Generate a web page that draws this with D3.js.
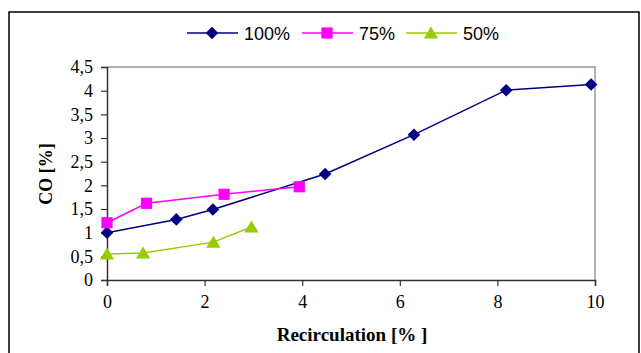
<!DOCTYPE html>
<html><head><meta charset="utf-8">
<script src="https://cdn.jsdelivr.net/npm/d3@7"></script>
<style>body{margin:0;background:#fff}svg{display:block}
.serif{font-family:"Liberation Serif","Times New Roman",serif}
.sans{font-family:"Liberation Sans",Arial,sans-serif}
</style>
</head><body>
<svg id="c" width="641" height="353"></svg>
<script>
const seriesNames = ["100%", "75%", "50%"];
const x100 = [0, 1.42, 2.17, 4.47, 6.29, 8.18, 9.92];
const y100 = [1.0, 1.28, 1.49, 2.24, 3.07, 4.01, 4.13];
const x75 = [0, 0.81, 2.4, 3.94];
const y75 = [1.21, 1.62, 1.81, 1.97];
const x50 = [0, 0.74, 2.18, 2.96];
const y50 = [0.55, 0.57, 0.8, 1.12];
const xTicks = [0, 2, 4, 6, 8, 10];
const yTicks = [0, 0.5, 1, 1.5, 2, 2.5, 3, 3.5, 4, 4.5];
const xTitle = "Recirculation [% ]";
const yTitle = "CO [%]";

const colors = ["#000080", "#FF00FF", "#99CC00"];

// marker path generators (size in px)
const diamond = s => `M0,${-s}L${s},0L0,${s}L${-s},0Z`;
const square = s => `M${-s},${-s}H${s}V${s}H${-s}Z`;
const triangle = s => `M0,${-s}L${s * 1.1},${s * 0.85}H${-s * 1.1}Z`;
const markers = [() => diamond(6.3), () => square(5.6), () => triangle(6.5)];

const svg = d3.select("#c");
const L = 107, R = 595, T = 67, B = 280;
const x = d3.scaleLinear().domain([0, 10]).range([L, R]);
const y = d3.scaleLinear().domain([0, 4.5]).range([B, T]);

// outer frame
svg.append("rect").attr("x", 9).attr("y", 12).attr("width", 630).attr("height", 360)
  .attr("fill", "none").attr("stroke", "#000").attr("stroke-width", 1.5);

// plot frame top/right
svg.append("path").attr("d", `M${L},${T}H${R}V${B}`).attr("fill", "none")
  .attr("stroke", "#999").attr("stroke-width", 1.5);

const fmt = d => String(d).replace(".", ",");
const xAxis = svg.append("g").attr("transform", `translate(0,${B})`)
  .call(d3.axisBottom(x).tickValues(xTicks).tickFormat(fmt).tickSize(6).tickPadding(9));
const yAxis = svg.append("g").attr("transform", `translate(${L},0)`)
  .call(d3.axisLeft(y).tickValues(yTicks).tickFormat(fmt).tickSize(6).tickPadding(8));
[xAxis, yAxis].forEach(a => {
  a.attr("font-family", null).attr("font-size", null);
  a.selectAll("path").attr("stroke", "#333").attr("stroke-width", 1.5);
  a.selectAll("line").attr("stroke", "#333").attr("stroke-width", 1.2);
  a.selectAll("text").attr("class", "serif").style("font-size", "18px").attr("fill", "#000");
});

svg.append("text").attr("x", 352).attr("y", 341).attr("text-anchor", "middle")
  .attr("class", "serif").style("font-weight", "bold")
  .style("font-size", "19px").text(xTitle);
svg.append("text").attr("transform", "translate(52,174) rotate(-90)").attr("text-anchor", "middle")
  .attr("class", "serif").style("font-weight", "bold")
  .style("font-size", "18px").text(yTitle);

const data = [
  x100.map((v, i) => [v, y100[i]]),
  x75.map((v, i) => [v, y75[i]]),
  x50.map((v, i) => [v, y50[i]])
];
const line = d3.line().x(d => x(d[0])).y(d => y(d[1]));
data.forEach((pts, k) => {
  svg.append("path").attr("d", line(pts)).attr("fill", "none")
    .attr("stroke", colors[k]).attr("stroke-width", 1.5);
});
data.forEach((pts, k) => {
  svg.selectAll(null).data(pts).enter().append("path")
    .attr("d", markers[k]())
    .attr("transform", d => `translate(${x(d[0])},${y(d[1])})`)
    .attr("fill", colors[k]);
});

// legend
const legX = [187, 302, 406];
const legY = 33;
seriesNames.forEach((n, k) => {
  const g = svg.append("g");
  g.append("line").attr("x1", legX[k]).attr("x2", legX[k] + 51).attr("y1", legY).attr("y2", legY)
    .attr("stroke", colors[k]).attr("stroke-width", 1.5);
  g.append("path").attr("d", markers[k]())
    .attr("transform", `translate(${legX[k] + 25},${legY})`).attr("fill", colors[k]);
  g.append("text").attr("x", legX[k] + 57).attr("y", legY + 6.5)
    .attr("class", "sans").style("font-size", "18px")
    .attr("fill", "#000").text(n);
});
</script>
</body></html>
